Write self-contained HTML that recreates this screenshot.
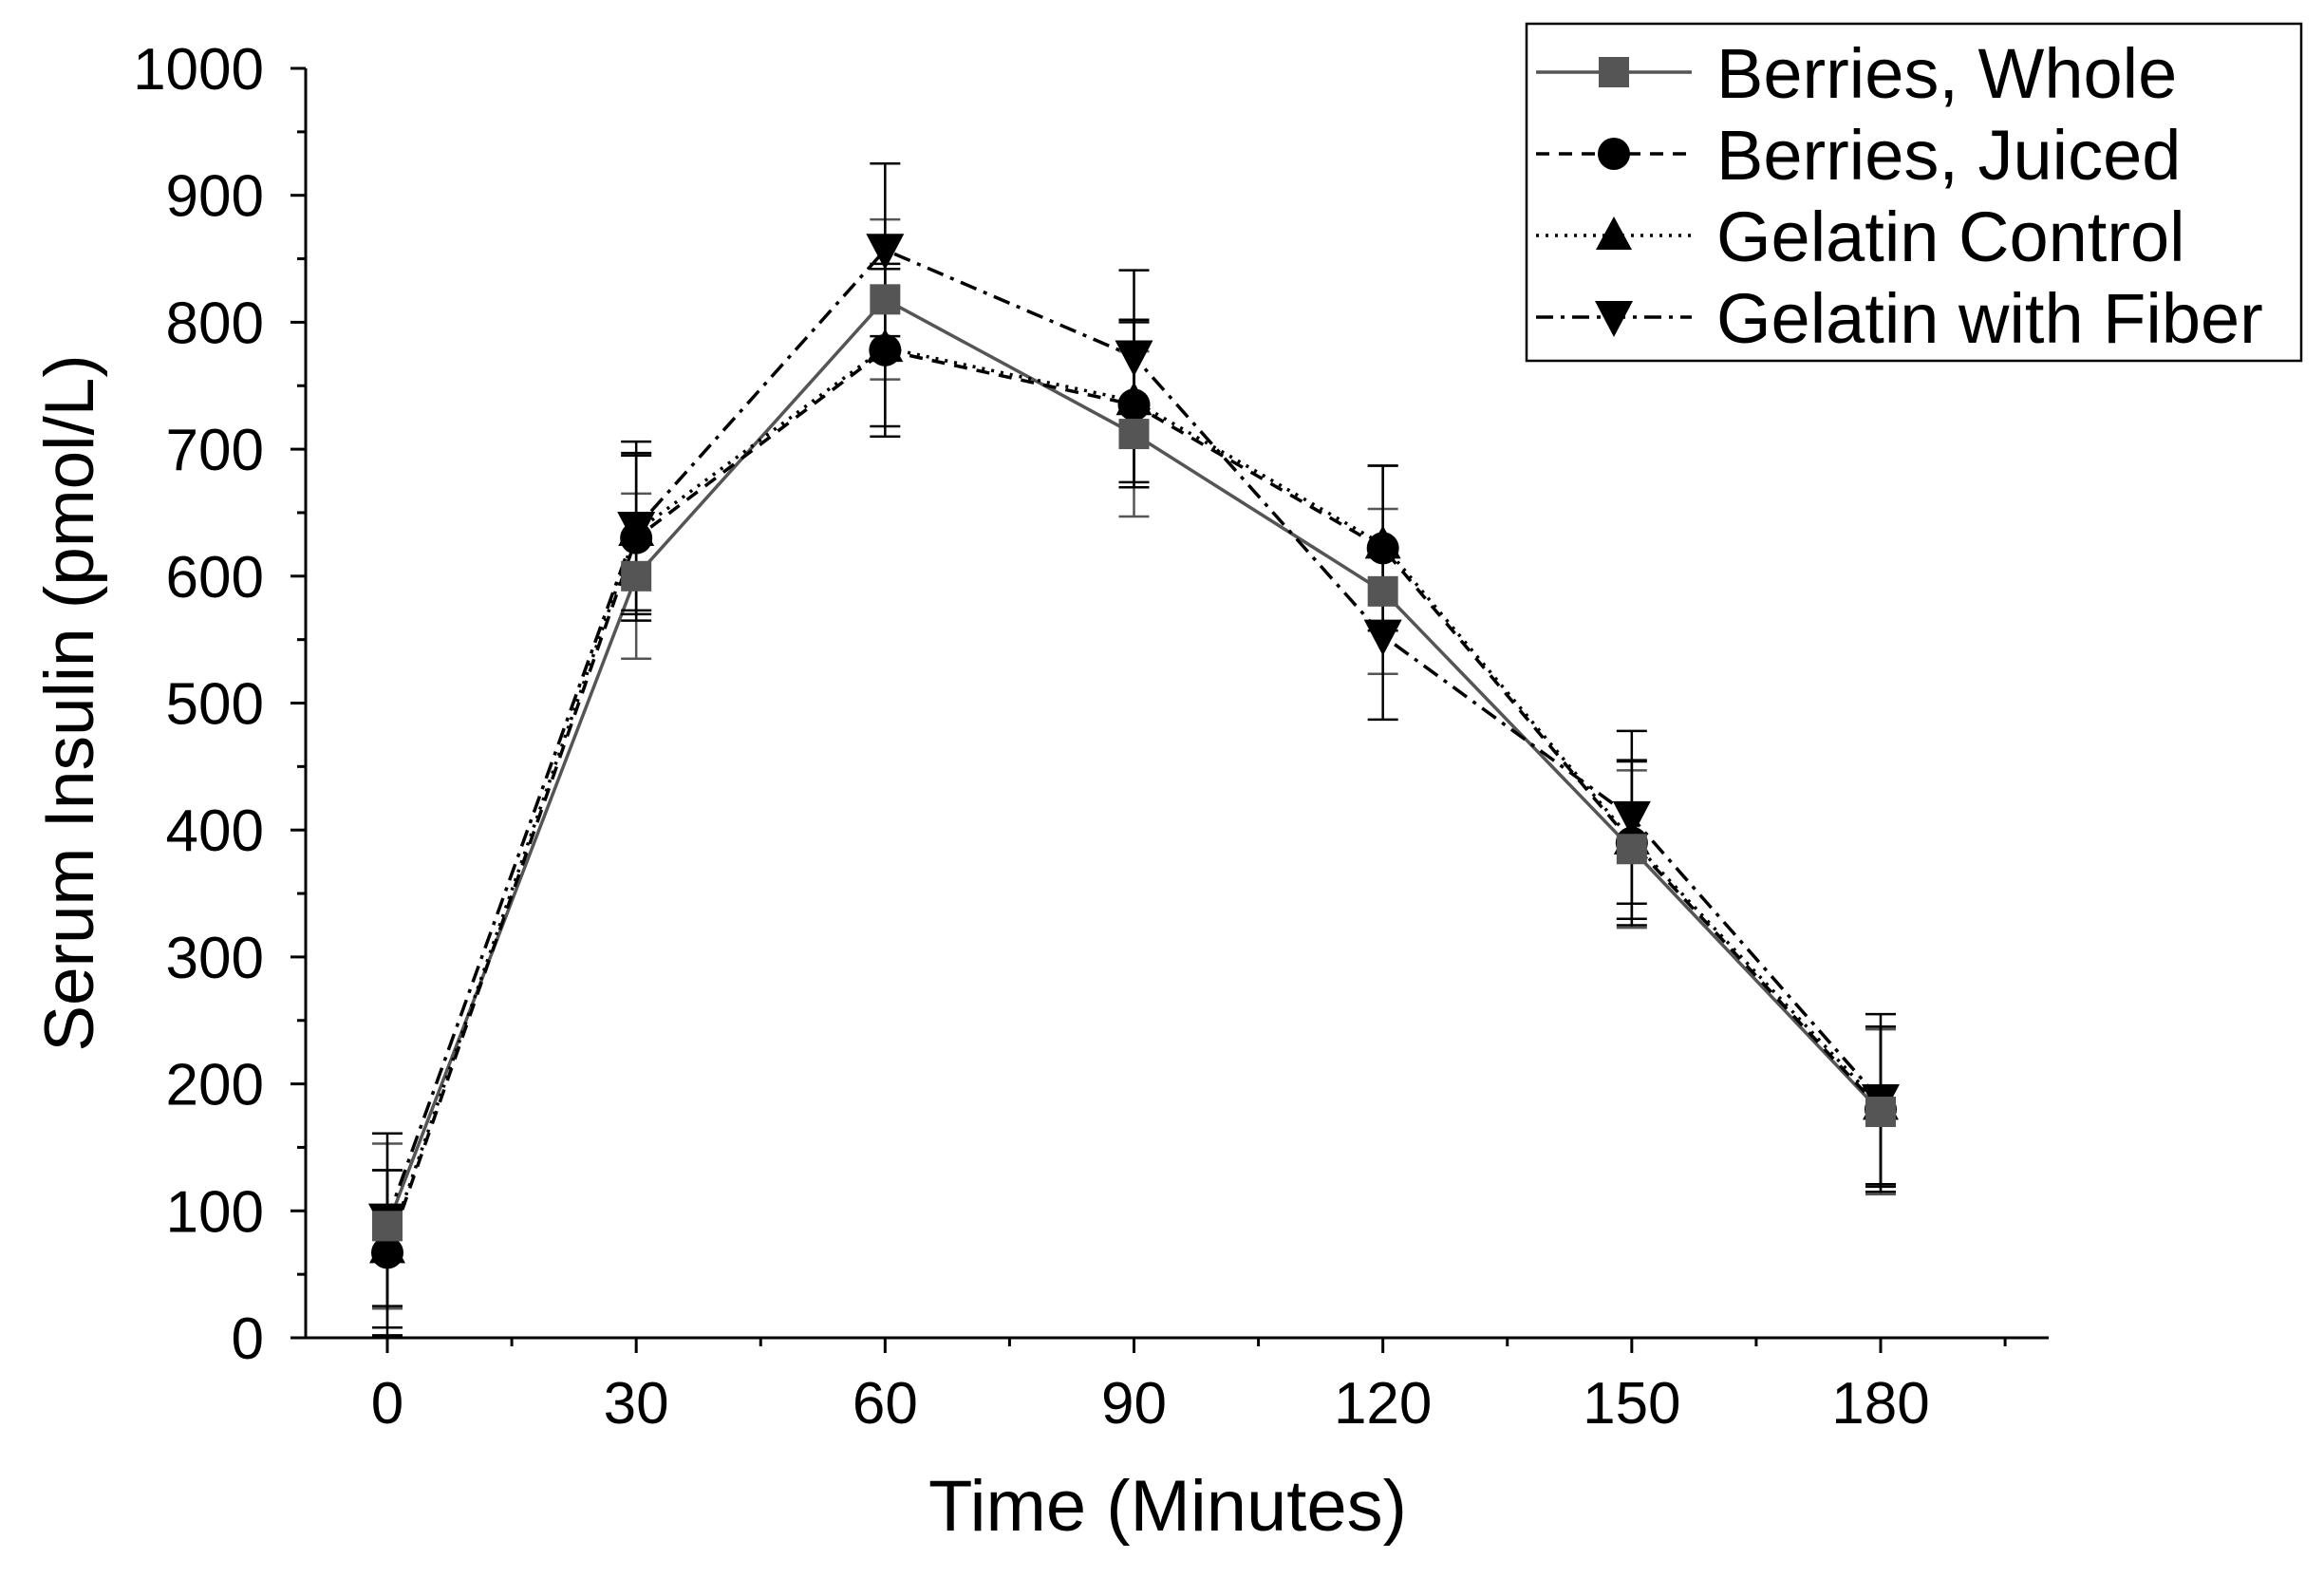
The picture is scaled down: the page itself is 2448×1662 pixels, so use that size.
<!DOCTYPE html>
<html><head><meta charset="utf-8"><style>
html,body{margin:0;padding:0;background:#fff;}
svg{display:block;font-family:"Liberation Sans",sans-serif;}
</style></head><body>
<svg id="chart" width="2448" height="1662" viewBox="0 0 2448 1662">
<g id="axes"></g>
<g id="series"></g>
<g id="legend"></g>
</svg>
<script>
const times = [0, 30, 60, 90, 120, 150, 180];
const seriesNames = ["Berries, Whole", "Berries, Juiced", "Gelatin Control", "Gelatin with Fiber"];
const wholeVals = [88, 600, 818, 712, 588, 385, 178];
const wholeErr = [65, 65, 63, 65, 65, 62, 65];
const juicedVals = [67, 630, 778, 735, 622, 390, 180];
const juicedErr = [65, 65, 68, 65, 65, 65, 65];
const controlVals = [70, 635, 780, 738, 625, 392, 183];
const controlErr = [62, 62, 62, 64, 62, 62, 62];
const fiberVals = [93, 638, 857, 773, 553, 410, 187];
const fiberErr = [68, 68, 68, 68, 66, 68, 68];
const yTicks = [0, 100, 200, 300, 400, 500, 600, 700, 800, 900, 1000];
const xTicks = [0, 30, 60, 90, 120, 150, 180];

const NS = "http://www.w3.org/2000/svg";
const L = 322, R = 2158, T = 72, B = 1409;
const X0 = 408, X180 = 1981;
function xs(v){ return X0 + (X180 - X0) * v / 180; }
function ys(v){ return B - (B - T) * v / 1000; }
function mk(tag, attrs, parent){ const e = document.createElementNS(NS, tag); for (const k in attrs) e.setAttribute(k, attrs[k]); parent.appendChild(e); return e; }

const axes = document.getElementById('axes');
let e;
e = mk('line', {x1:L, y1:T, x2:L, y2:B, stroke:'#000', 'stroke-width':3}, axes);


e = mk('line', {x1:L, y1:B, x2:R, y2:B, stroke:'#000', 'stroke-width':3}, axes);


for (let i = 0; i < yTicks.length; i++) {
  const y = ys(yTicks[i]);
  mk('line', {x1:L-16, y1:y, x2:L, y2:y, stroke:'#000', 'stroke-width':3}, axes);
  if (i < yTicks.length - 1) { const ym = ys(yTicks[i] + 50); mk('line', {x1:L-9, y1:ym, x2:L, y2:ym, stroke:'#000', 'stroke-width':3}, axes); }
  e = mk('text', {x:L-44, y:y+22, 'text-anchor':'end', 'font-size':62}, axes);
  e.textContent = yTicks[i];
  
  
}
for (let v = -15; v <= 195; v += 15) {
  const x = xs(v);
  if (x < L || x > R) continue;
  const major = xTicks.indexOf(v) >= 0;
  mk('line', {x1:x, y1:B, x2:x, y2:B+(major?16:9), stroke:'#000', 'stroke-width':3}, axes);
}
for (const v of xTicks) {
  e = mk('text', {x:xs(v), y:B+90, 'text-anchor':'middle', 'font-size':62}, axes);
  e.textContent = v;
  
  
}
e = mk('text', {x:(L+R)/2 - 10, y:1612, 'text-anchor':'middle', 'font-size':76}, axes);
e.textContent = 'Time (Minutes)';


e = mk('text', {x:0, y:0, 'text-anchor':'middle', 'font-size':73, transform:'translate(98,'+((T+B)/2)+') rotate(-90)'}, axes);
e.textContent = 'Serum Insulin (pmol/L)';



const defs = [
  {vals: wholeVals, err: wholeErr, color:'#555', dash:'', marker:'square', name:'series-berries-whole'},
  {vals: juicedVals, err: juicedErr, color:'#000', dash:'14,10', marker:'circle', name:'series-berries-juiced'},
  {vals: controlVals, err: controlErr, color:'#000', dash:'3,7', marker:'up', name:'series-gelatin-control'},
  {vals: fiberVals, err: fiberErr, color:'#000', dash:'18,8,4,8', marker:'down', name:'series-gelatin-fiber'}
];
function drawMarker(type, x, y, color, parent){
  if (type === 'square') return mk('rect', {x:x-16, y:y-16, width:32, height:32, fill:'#555'}, parent);
  if (type === 'circle') return mk('circle', {cx:x, cy:y, r:17, fill:'#000'}, parent);
  if (type === 'up') return mk('polygon', {points:(x)+','+(y-20)+' '+(x-19)+','+(y+15)+' '+(x+19)+','+(y+15), fill:'#000'}, parent);
  return mk('polygon', {points:(x-20)+','+(y-17)+' '+(x+20)+','+(y-17)+' '+x+','+(y+21), fill:'#000'}, parent);
}
const sg = document.getElementById('series');
defs.forEach(d => {
  const g = mk('g', {}, sg);
  
  
  const pts = times.map((t,i) => xs(t)+','+ys(d.vals[i])).join(' ');
  const attrs = {points:pts, fill:'none', stroke:d.color, 'stroke-width':3.5};
  if (d.dash) attrs['stroke-dasharray'] = d.dash;
  const pl = mk('polyline', attrs, g);
  
  
  times.forEach((t,i) => {
    const x = xs(t), yh = ys(d.vals[i] + d.err[i]), yl = ys(d.vals[i] - d.err[i]);
    const eb = mk('path', {d:'M'+x+','+yh+'V'+yl+'M'+(x-16)+','+yh+'H'+(x+16)+'M'+(x-16)+','+yl+'H'+(x+16), stroke:d.color, 'stroke-width':2.5, fill:'none'}, g);
    
    
  });
});
defs.slice().reverse().forEach(d => {
  times.forEach((t,i) => {
    const m = drawMarker(d.marker, xs(t), ys(d.vals[i]), d.color, sg);
    
    
  });
});

const lg = document.getElementById('legend');
e = mk('rect', {x:1608, y:25, width:816, height:355, fill:'#fff', stroke:'#000', 'stroke-width':2.5}, lg);


defs.forEach((d,i) => {
  const y = 76 + i*86;
  const g = mk('g', {}, lg);
  
  
  const a = {x1:1618, y1:y, x2:1782, y2:y, stroke:d.color, 'stroke-width':3.5};
  if (d.dash) a['stroke-dasharray'] = d.dash;
  mk('line', a, g);
  drawMarker(d.marker, 1700, y, d.color, g);
  const tx = mk('text', {x:1808, y:y+27, 'font-size':74}, g);
  tx.textContent = seriesNames[i];
});
</script>
</body></html>
